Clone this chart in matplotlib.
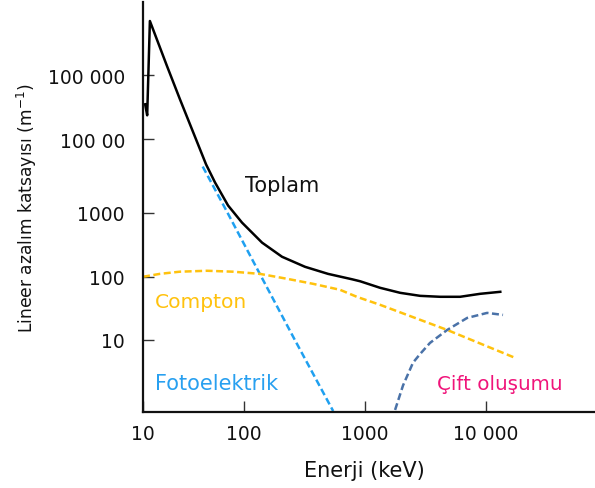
import numpy as np
import matplotlib
matplotlib.use("Agg")
import matplotlib.pyplot as plt
from matplotlib.ticker import NullLocator

# values (keV, 1/m)
total_e = [10.5, 11.0, 11.7, 17.3, 23.2, 42.1, 51.6, 69.5, 95.5, 141, 206, 319, 494, 782,
           910, 1330, 1950, 2850, 4170, 6100, 8910, 13100]
total_mu = [35200, 23700, 698000, 138000, 42200, 4550, 2580, 1250, 698, 340, 205, 143, 111, 91.2,
            84.9, 66.9, 55.7, 49.9, 48.2, 48.2, 53.7, 57.8]

compton_e = [10, 14.7, 23.2, 43, 77.8, 135, 226, 371, 621, 859, 1330, 4770, 17400]
compton_mu = [100, 111, 120, 124, 120, 111, 93, 77.4, 62.2, 48, 36, 14.4, 5.2]

photo_e = [39, 68.5, 100, 139, 263, 545]
photo_mu = [4250, 1000, 324, 100, 10, 0.75]

pair_e = [1770, 2060, 2490, 2850, 3440, 4770, 6970, 10200, 13800]
pair_mu = [0.78, 1.91, 4.37, 6.0, 8.98, 14.4, 22.3, 26.8, 24.9]

x_ticks = [10, 100, 1000, 10000]
x_labels = ["10", "100", "1000", "10 000"]
y_ticks = [10, 100, 1000, 10000, 100000]
y_labels = ["10", "100", "1000", "100 00", "100 000"]


def piecewise_log(logs, pos):
    # the drawing does not space its decades evenly, so map each decade by hand
    logs = np.asarray(logs, float)
    pos = np.asarray(pos, float)
    s_lo = (pos[1] - pos[0]) / (logs[1] - logs[0])
    s_hi = (pos[-1] - pos[-2]) / (logs[-1] - logs[-2])

    def fwd(v):
        l = np.log10(np.clip(np.asarray(v, float), 1e-12, None))
        out = np.interp(l, logs, pos)
        out = np.where(l < logs[0], pos[0] + (l - logs[0]) * s_lo, out)
        out = np.where(l > logs[-1], pos[-1] + (l - logs[-1]) * s_hi, out)
        return out

    def inv(p):
        p = np.asarray(p, float)
        l = np.interp(p, pos, logs)
        l = np.where(p < pos[0], logs[0] + (p - pos[0]) / s_lo, l)
        l = np.where(p > pos[-1], logs[-1] + (p - pos[-1]) / s_hi, l)
        return 10.0 ** l

    return fwd, inv


plt.rcParams['font.family'] = ['DejaVu Sans']

fig = plt.figure(figsize=(5.95, 4.89), dpi=100)
ax = fig.add_axes([143 / 595, 1 - 413 / 489, 1 - 143 / 595, (413 - 3) / 489])

ax.set_xscale('function', functions=piecewise_log([1, 2, 3, 4], [143, 244, 365, 486]))
ax.set_yscale('function', functions=piecewise_log([1, 2, 3, 4, 5], [-340, -277, -213, -140, -76]))

dash = (2.8, 1.4)
ax.plot(photo_e, photo_mu, color="#1fa0f0", lw=1.8, dashes=dash, zorder=2)
ax.plot(compton_e, compton_mu, color="#ffc20e", lw=1.8, dashes=dash, zorder=2)
ax.plot(pair_e, pair_mu, color="#4a72a8", lw=1.8, dashes=dash, zorder=2)
ax.plot(total_e, total_mu, color="black", lw=1.8, zorder=3, solid_joinstyle='round')

ax.set_xlim(10, 79400)
ax.set_ylim(0.724, 10 ** 6.14)

ax.set_xticks(x_ticks)
ax.set_xticklabels(x_labels)
ax.set_yticks(y_ticks)
ax.set_yticklabels(y_labels)
ax.xaxis.set_minor_locator(NullLocator())
ax.yaxis.set_minor_locator(NullLocator())
ax.tick_params(direction='in', length=8, width=1.0, color="#333333",
               labelsize=13.5, labelcolor="#111111")
ax.tick_params(axis='x', pad=9)
ax.tick_params(axis='y', pad=13)

for side in ['top', 'right']:
    ax.spines[side].set_visible(False)
for side in ['left', 'bottom']:
    ax.spines[side].set_linewidth(1.6)
    ax.spines[side].set_color("#111111")

ax.set_xlabel("Enerji (keV)", fontsize=15, color="#111111")
ax.xaxis.set_label_coords(0.489, -0.118)
ax.set_ylabel("Lineer azalım katsayısı (m$^{-1}$)", fontsize=12.3, color="#111111", labelpad=6)

fig.text(245 / 595, 1 - 186 / 489, "Toplam", fontsize=15, color="#111111", va='center')
fig.text(155 / 595, 1 - 302 / 489, "Compton", fontsize=14.6, color="#ffc20e", va='center')
fig.text(155 / 595, 1 - 384 / 489, "Fotoelektrik", fontsize=15, color="#28a0f0", va='center')
fig.text(437 / 595, 1 - 385 / 489, "Çift oluşumu", fontsize=14.3, color="#f0147a", va='center')

fig.savefig("out.png", dpi=100)
